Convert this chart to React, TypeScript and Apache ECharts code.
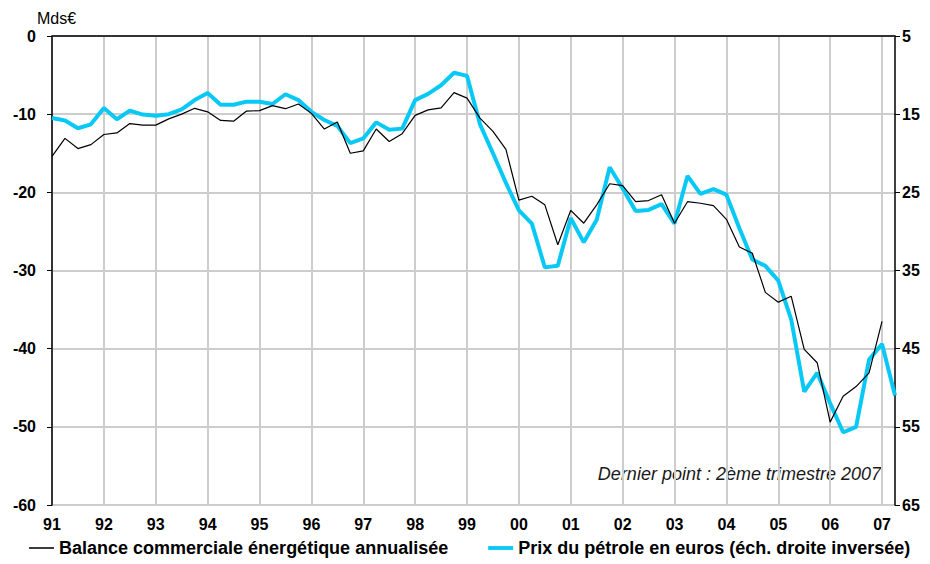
import React, { useEffect, useRef } from "react";
import * as echarts from "echarts";

const years = [1991, 1992, 1993, 1994, 1995, 1996, 1997, 1998, 1999, 2000, 2001, 2002, 2003, 2004, 2005, 2006, 2007];
const lastQuarterOfLastYear = 2;

const balance: (number | null)[] = [
  -15.4, -13.1, -14.4, -13.9,
  -12.6, -12.4, -11.2, -11.4,
  -11.4, -10.6, -10.0, -9.25,
  -9.7, -10.8, -10.9, -9.6,
  -9.55, -8.9, -9.3, -8.7,
  -9.9, -11.9, -11.0, -15.0,
  -14.7, -11.9, -13.5, -12.5,
  -10.15, -9.45, -9.2, -7.25,
  -7.95, -10.5, -12.2, -14.5,
  -21.0, -20.5, -21.6, -26.7,
  -22.3, -23.95, -21.6, -18.9,
  -19.15, -21.2, -21.05, -20.3,
  -23.95, -21.2, -21.4, -21.7,
  -23.45, -27.0, -27.8, -32.8,
  -34.05, -33.3, -40.1, -41.8,
  -49.4, -46.1, -44.85, -43.1,
  -36.5, null,
];

const oilPrice: number[] = [
  15.5, 15.8, 16.8, 16.3,
  14.2, 15.65, 14.55, 15.05,
  15.2, 15.0, 14.4, 13.2,
  12.3, 13.8, 13.8, 13.4,
  13.4, 13.7, 12.45, 13.2,
  14.7, 15.75, 16.5, 18.7,
  18.1, 16.05, 17.0, 16.85,
  13.2, 12.4, 11.3, 9.7,
  10.1, 16.3, 20.0, 23.8,
  27.3, 29.0, 34.6, 34.4,
  28.3, 31.4, 28.5, 21.8,
  24.5, 27.4, 27.25, 26.5,
  29.0, 22.9, 25.2, 24.6,
  25.3, 29.6, 33.6, 34.4,
  36.3, 41.3, 50.5, 48.1,
  52.0, 55.7, 55.0, 46.4,
  44.4, 51.0,
];

const leftTicks = { min: -60, max: 0, interval: 10 };
const rightTicks = { min: 5, max: 65, interval: 10 };

const seriesNames = [
  "Balance commerciale énergétique annualisée",
  "Prix du pétrole en euros (éch. droite inversée)",
];
const unitLabel = "Mds€";
const noteText = "Dernier point : 2ème trimestre 2007";

const quarters: string[] = [];
years.forEach((y, yi) => {
  const nq = yi === years.length - 1 ? lastQuarterOfLastYear : 4;
  for (let q = 1; q <= nq; q++) quarters.push(`${y} T${q}`);
});

const FONT = "'Liberation Sans', Arial, Helvetica, sans-serif";
const BLUE = "#08c9f6";

export default function App() {
  const ref = useRef<HTMLDivElement>(null);
  useEffect(() => {
    if (!ref.current) return;
    const chart = echarts.init(ref.current, null, { renderer: "svg" });
    const rightOffset = rightTicks.min;
    chart.setOption({
      animation: false,
      backgroundColor: "#ffffff",
      textStyle: { fontFamily: FONT },
      grid: { left: 52, right: 35, top: 36, bottom: 59, containLabel: false },
      xAxis: [
        {
          type: "category",
          data: quarters,
          boundaryGap: false,
          axisLine: { show: true, lineStyle: { color: "#c8c8c8", width: 2 } },
          axisTick: { show: false },
          axisLabel: {
            interval: (i: number) => i % 4 === 0,
            formatter: (v: string) => v.slice(2, 4),
            fontWeight: "bold",
            fontSize: 16,
            color: "#000",
            margin: 11,
            fontFamily: FONT,
          },
          splitLine: {
            show: true,
            interval: (i: number) => i % 4 === 0,
            lineStyle: { color: "#cdcdcd", width: 2 },
          },
        },
        {
          type: "category",
          data: quarters,
          position: "top",
          boundaryGap: false,
          axisLine: { show: true, onZero: false, lineStyle: { color: "#000", width: 1.5 } },
          axisTick: { show: false },
          axisLabel: { show: false },
          splitLine: { show: false },
        },
      ],
      yAxis: [
        {
          type: "value",
          position: "left",
          min: leftTicks.min,
          max: leftTicks.max,
          interval: leftTicks.interval,
          axisLine: { show: true, lineStyle: { color: "#000", width: 1.5 } },
          axisTick: { show: true, length: 5, lineStyle: { color: "#000", width: 1 } },
          axisLabel: { fontWeight: "bold", fontSize: 16, color: "#000", margin: 16, fontFamily: FONT },
          splitLine: { show: true, lineStyle: { color: "#cdcdcd", width: 2 } },
        },
        {
          type: "value",
          position: "right",
          inverse: true,
          min: 0,
          max: rightTicks.max - rightTicks.min,
          interval: rightTicks.interval,
          axisLine: { show: true, lineStyle: { color: "#000", width: 1.5 } },
          axisTick: { show: true, length: 5, lineStyle: { color: "#000", width: 1 } },
          axisLabel: {
            fontWeight: "bold",
            fontSize: 16,
            color: "#000",
            margin: 7,
            fontFamily: FONT,
            formatter: (v: number) => String(v + rightOffset),
          },
          splitLine: { show: false },
        },
      ],
      legend: {
        left: 29,
        top: 539,
        itemGap: 40,
        itemWidth: 25,
        itemHeight: 4,
        padding: 0,
        symbolKeepAspect: true,
        textStyle: { fontWeight: "bold", fontSize: 18, color: "#000", fontFamily: FONT },
        data: [
          { name: seriesNames[0], icon: "path://M0,0H26V2H0Z", itemStyle: { color: "#333" } },
          { name: seriesNames[1], icon: "path://M0,0H26V4H0Z", itemStyle: { color: BLUE } },
        ],
      },
      series: [
        {
          name: seriesNames[0],
          type: "line",
          xAxisIndex: 0,
          yAxisIndex: 0,
          data: balance,
          showSymbol: false,
          symbol: "none",
          z: 3,
          lineStyle: { color: "#000", width: 1.2 },
          itemStyle: { color: "#000" },
        },
        {
          name: seriesNames[1],
          type: "line",
          xAxisIndex: 0,
          yAxisIndex: 1,
          data: oilPrice.map((p) => p - rightOffset),
          showSymbol: false,
          symbol: "none",
          z: 2,
          lineStyle: { color: BLUE, width: 4 },
          itemStyle: { color: BLUE },
        },
      ],
      graphic: [
        {
          type: "text",
          left: 37,
          top: 10,
          style: { text: unitLabel, font: `16px ${FONT}`, fill: "#000" },
        },
        {
          type: "text",
          right: 49,
          top: 465,
          style: { text: noteText, font: `italic 18px ${FONT}`, fill: "#1a1a1a" },
        },
      ],
    });
    return () => chart.dispose();
  }, []);
  return (
    <div
      ref={ref}
      style={{ position: "absolute", left: 0, top: 0, width: 930, height: 564 }}
    />
  );
}
